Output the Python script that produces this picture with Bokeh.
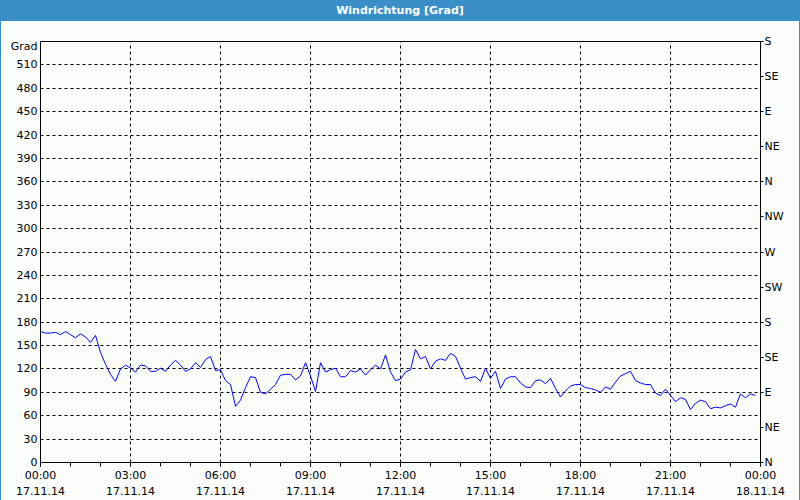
from bokeh.plotting import figure
from bokeh.models import LinearAxis, FixedTicker, Range1d, ColumnDataSource, Div
from bokeh.layouts import column
from bokeh.embed import file_html
from bokeh.resources import INLINE

TITLE = "Windrichtung [Grad]"
Y_LABEL = "Grad"

# wind direction in degrees, one reading every 10 minutes from 17.11.14 00:00
direction = [
    168, 166, 166, 167, 164, 168, 164, 160, 165, 161, 154, 163,
    141, 126, 113, 104, 120, 125, 121, 116, 125, 124, 117, 117,
    121, 117, 125, 131, 125, 117, 120, 128, 122, 132, 136, 118,
    119, 105, 100, 72, 80, 96, 110, 109, 90, 88, 94, 100,
    112, 113, 113, 106, 111, 128, 111, 91, 128, 116, 119, 121,
    110, 110, 118, 116, 120, 112, 119, 125, 120, 138, 116, 105,
    107, 116, 119, 145, 133, 136, 120, 130, 133, 131, 140, 136,
    121, 107, 109, 110, 104, 121, 108, 117, 95, 107, 110, 110,
    102, 97, 96, 105, 106, 101, 108, 95, 84, 92, 98, 100,
    100, 96, 95, 93, 90, 97, 94, 103, 111, 114, 117, 105,
    102, 100, 100, 89, 86, 94, 86, 78, 83, 81, 68, 76,
    80, 78, 69, 71, 70, 73, 75, 71, 88, 83, 88, 86,
]
step_minutes = 10
hours = [i * step_minutes / 60 for i in range(len(direction))]

time_ticks = [0, 3, 6, 9, 12, 15, 18, 21, 24]
time_labels = [
    "00:00\n17.11.14", "03:00\n17.11.14", "06:00\n17.11.14",
    "09:00\n17.11.14", "12:00\n17.11.14", "15:00\n17.11.14",
    "18:00\n17.11.14", "21:00\n17.11.14", "00:00\n18.11.14",
]
hour_minor_ticks = list(range(0, 25))
y_ticks = list(range(0, 511, 30))
grid_y = list(range(0, 541, 30))
unit_label_pos = 534  # where the unit caption "Grad" sits on the left axis
compass_ticks = list(range(0, 541, 45))
compass_labels = ["N", "NE", "E", "SE", "S", "SW", "W", "NW", "N", "NE", "E", "SE", "S"]

BG = "#fbfdfb"
BLUE = "#3a8fc8"
FONT = "DejaVu Sans"
FS = "11px"

# header bar
header = Div(text=TITLE, width=798, height=20,
             styles={"background-color": BLUE, "color": "white",
                     "font-family": FONT, "font-weight": "bold", "font-size": "11px",
                     "text-align": "center", "line-height": "20px", "margin": "0",
                     "padding": "0", "width": "798px", "height": "20px"})

p = figure(frame_width=720, frame_height=421, x_range=Range1d(0, 24), y_range=Range1d(0, 540),
           toolbar_location=None, output_backend="svg",
           min_border_left=39, min_border_right=39, min_border_top=20, min_border_bottom=38,
           background_fill_color=BG, border_fill_color=BG)
p.outline_line_color = "black"
p.outline_line_width = 1

# axes
xa = p.xaxis[0]
xa.ticker = FixedTicker(ticks=time_ticks, minor_ticks=hour_minor_ticks)
xa.major_label_overrides = dict(zip(time_ticks, time_labels))
ya = p.yaxis[0]
ya.ticker = FixedTicker(ticks=y_ticks + [unit_label_pos])
ya_labels = {t: str(t) for t in y_ticks}
ya_labels[unit_label_pos] = Y_LABEL
ya.major_label_overrides = ya_labels
ra = LinearAxis(ticker=FixedTicker(ticks=compass_ticks),
                major_label_overrides=dict(zip(compass_ticks, compass_labels)))
p.add_layout(ra, "right")

for ax in (xa, ya, ra):
    ax.axis_line_color = "black"
    ax.major_tick_line_color = "black"
    ax.minor_tick_line_color = "black"
    ax.major_label_text_font = FONT
    ax.major_label_text_font_size = FS
    ax.major_label_text_color = "black"
    ax.minor_tick_in = 0
    ax.major_tick_in = 0

xa.major_tick_out = 4
xa.minor_tick_out = 4
xa.major_label_standoff = 2
xa.major_label_text_line_height = 1.3
ya.major_tick_out = 0
ya.minor_tick_out = 0
ya.major_label_standoff = 3
ra.major_tick_out = 3
ra.minor_tick_out = 0
ra.major_label_standoff = 1

# grid
p.xgrid.ticker = FixedTicker(ticks=time_ticks)
p.ygrid.ticker = FixedTicker(ticks=grid_y)
for g in (p.xgrid[0], p.ygrid[0]):
    g.grid_line_color = "black"
    g.grid_line_dash = "3 3"
    g.grid_line_width = 1
    g.grid_line_alpha = 1

src = ColumnDataSource(dict(h=hours, d=direction))
p.line("h", "d", source=src, line_color="#0000ff", line_width=1)

layout = column(header, p, spacing=0)
layout.styles = {"background-color": BG, "border-left": "1px solid " + BLUE,
                 "border-right": "1px solid " + BLUE, "border-bottom": "1px solid " + BLUE,
                 "border-top": "1px solid " + BLUE}
open("out.html", "w").write(file_html(layout, INLINE))
